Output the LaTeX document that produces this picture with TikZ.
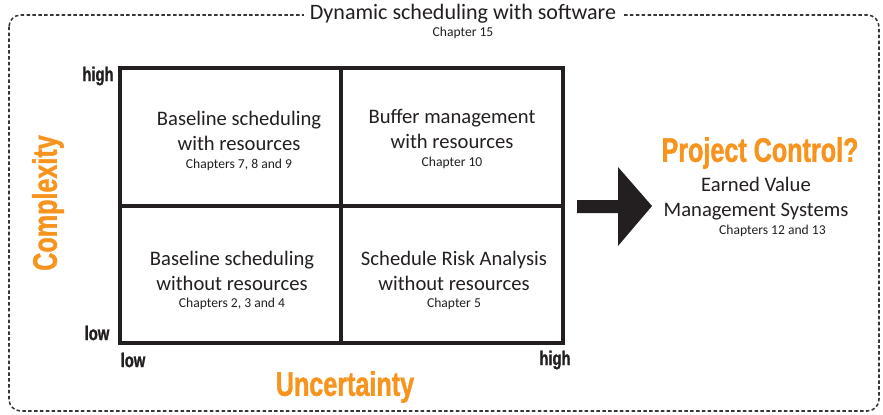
\documentclass[tikz,border=0pt]{standalone}
\usepackage{fontspec}
\setmainfont{Carlito}
\newfontfamily\condfont{Liberation Sans Bold}[FakeStretch=0.74, FakeBold=1.2]
\usetikzlibrary{positioning}
\definecolor{axiscolor}{HTML}{F7941D}
\definecolor{inkcolor}{HTML}{231F20}

\begin{document}
\begin{tikzpicture}[x=0.03cm, y=-0.03cm,
    cell/.style={align=center, text=inkcolor, inner sep=0pt, font=\fontsize{17.6}{21.3}\selectfont},
    chap/.style={text=inkcolor, inner sep=0pt, font=\fontsize{11.6}{13}\selectfont},
    tick/.style={text=inkcolor, inner sep=0pt, font=\condfont\fontsize{17}{19}\selectfont},
    axis/.style={text=axiscolor, inner sep=0pt, font=\condfont\fontsize{29}{32}\selectfont},
    grid/.style={draw=inkcolor, line width=2.6pt}
]
    \useasboundingbox (0,0) rectangle (883,415);

    % --- software frame ---
    \draw[inkcolor!90, line width=1.3pt, dash pattern=on 3pt off 2pt, rounded corners=10]
        (9,15) rectangle (879,411);
    \node[fill=white, text=inkcolor, inner xsep=5pt, inner ysep=1pt,
          font=\fontsize{18.8}{20}\selectfont] (dyn) at (463,14) {Dynamic scheduling with software};
    \node[chap] (dynch) at (463,33) {Chapter 15};

    % --- quadrants ---
    \coordinate (sw) at (120,343);
    \coordinate (ne) at (563,68);
    \draw[grid] (sw) rectangle (ne);
    \draw[grid] (341,68) -- (341,343);
    \draw[grid] (120,206) -- (563,206);

    \node[cell] (tl) at (239,131) {Baseline scheduling\\with resources};
    \node[chap, below=6.5pt of tl] (tlch) {Chapters 7, 8 and 9};
    \node[cell] (tr) at (452,129) {Buffer management\\with resources};
    \node[chap, below=6.5pt of tr] (trch) {Chapter 10};
    \node[cell] (bl) at (232,271) {Baseline scheduling\\without resources};
    \node[chap, below=5.5pt of bl] (blch) {Chapters 2, 3 and 4};
    \node[cell] (br) at (454,271) {Schedule Risk Analysis\\without resources};
    \node[chap, below=5.5pt of br] (brch) {Chapter 5};

    % --- axes ---
    \node[tick] (yhigh) at (98,76) {high};
    \node[tick] (ylow) at (97,333) {low};
    \node[tick] (xlow) at (133,360) {low};
    \node[tick] (xhigh) at (555,360) {high};
    \node[axis, rotate=90] (cmplx) at (48,203) {Complexity};
    \node[axis] (uncert) at (345,387) {Uncertainty};

    % --- control ---
    \fill[inkcolor] (577,200) -- (618,200) -- (618,167) -- (652,206)
        -- (618,246) -- (618,213) -- (577,213) -- cycle;
    \node[axis] (ctrl) at (760,153) {Project Control?};
    \node[cell] (evms) at (756,199) {Earned Value\\Management Systems};
    \node[chap, below=3.5pt of evms, xshift=14] (evmsch) {Chapters 12 and 13};
\end{tikzpicture}
\end{document}
